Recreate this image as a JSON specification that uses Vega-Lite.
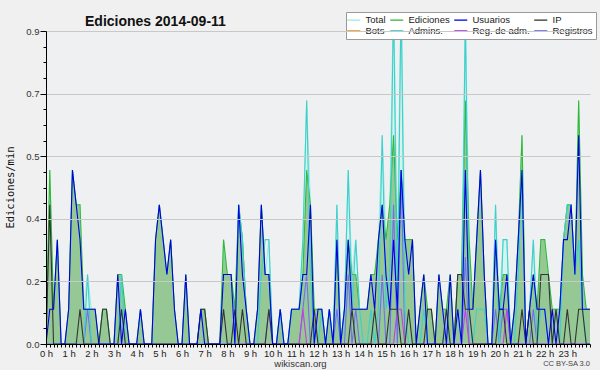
{
"$schema": "https://vega.github.io/schema/vega-lite/v6.json",
"width": 544, "height": 313,
"autosize": "none",
"padding": {"left": 46, "top": 31, "right": 10, "bottom": 26},
"background": "#f0f0f0",
"config": {"view": {"fill": "#eef0f2", "stroke": null}, "font": "Liberation Sans"},
"title": {"text": "Ediciones  2014-09-11", "anchor": "start", "frame": "group", "dx": 39, "offset": -28, "baseline": "alphabetic", "font": "Liberation Sans", "fontSize": 14, "fontWeight": "bold", "color": "#111111"},
"datasets": {"d": [
{"m":0,"tot":0,"edi":0,"usr":0,"ip":0,"adm":0,"radm":0,"reg":0},
{"m":10,"tot":0.5,"edi":0.5,"usr":0.1,"ip":0.4,"adm":0,"radm":0,"reg":0},
{"m":20,"tot":0.1,"edi":0.1,"usr":0.1,"ip":0,"adm":0,"radm":0,"reg":0},
{"m":30,"tot":0.3,"edi":0.3,"usr":0.3,"ip":0,"adm":0,"radm":0,"reg":0},
{"m":40,"tot":0,"edi":0,"usr":0,"ip":0,"adm":0,"radm":0,"reg":0},
{"m":50,"tot":0,"edi":0,"usr":0,"ip":0,"adm":0,"radm":0,"reg":0},
{"m":60,"tot":0.1,"edi":0.1,"usr":0.1,"ip":0,"adm":0,"radm":0,"reg":0},
{"m":70,"tot":0.5,"edi":0.5,"usr":0.5,"ip":0,"adm":0,"radm":0,"reg":0},
{"m":80,"tot":0.4,"edi":0.4,"usr":0.4,"ip":0,"adm":0,"radm":0,"reg":0},
{"m":90,"tot":0.4,"edi":0.4,"usr":0.3,"ip":0.1,"adm":0,"radm":0,"reg":0},
{"m":100,"tot":0.1,"edi":0.1,"usr":0.1,"ip":0,"adm":0,"radm":0,"reg":0},
{"m":110,"tot":0.2,"edi":0.1,"usr":0.1,"ip":0,"adm":0.2,"radm":0,"reg":0.1},
{"m":120,"tot":0.1,"edi":0.1,"usr":0.1,"ip":0,"adm":0,"radm":0,"reg":0},
{"m":130,"tot":0.1,"edi":0.1,"usr":0.1,"ip":0,"adm":0,"radm":0,"reg":0},
{"m":140,"tot":0,"edi":0,"usr":0,"ip":0,"adm":0,"radm":0,"reg":0},
{"m":150,"tot":0.1,"edi":0.1,"usr":0,"ip":0.1,"adm":0,"radm":0,"reg":0},
{"m":160,"tot":0.1,"edi":0.1,"usr":0,"ip":0.1,"adm":0,"radm":0,"reg":0},
{"m":170,"tot":0,"edi":0,"usr":0,"ip":0,"adm":0,"radm":0,"reg":0},
{"m":180,"tot":0,"edi":0,"usr":0,"ip":0,"adm":0,"radm":0,"reg":0},
{"m":190,"tot":0.2,"edi":0.2,"usr":0.2,"ip":0,"adm":0,"radm":0,"reg":0},
{"m":200,"tot":0.2,"edi":0.2,"usr":0,"ip":0.1,"adm":0.2,"radm":0,"reg":0},
{"m":210,"tot":0.1,"edi":0.1,"usr":0.1,"ip":0,"adm":0,"radm":0,"reg":0},
{"m":220,"tot":0,"edi":0,"usr":0,"ip":0,"adm":0,"radm":0,"reg":0},
{"m":230,"tot":0,"edi":0,"usr":0,"ip":0,"adm":0,"radm":0,"reg":0},
{"m":240,"tot":0,"edi":0,"usr":0,"ip":0,"adm":0,"radm":0,"reg":0},
{"m":250,"tot":0.1,"edi":0.1,"usr":0.1,"ip":0,"adm":0,"radm":0,"reg":0},
{"m":260,"tot":0,"edi":0,"usr":0,"ip":0,"adm":0,"radm":0,"reg":0},
{"m":270,"tot":0,"edi":0,"usr":0,"ip":0,"adm":0,"radm":0,"reg":0},
{"m":280,"tot":0,"edi":0,"usr":0,"ip":0,"adm":0,"radm":0,"reg":0},
{"m":290,"tot":0.3,"edi":0.3,"usr":0.3,"ip":0,"adm":0,"radm":0,"reg":0},
{"m":300,"tot":0.4,"edi":0.4,"usr":0.4,"ip":0,"adm":0,"radm":0,"reg":0},
{"m":310,"tot":0.3,"edi":0.3,"usr":0.3,"ip":0,"adm":0,"radm":0,"reg":0},
{"m":320,"tot":0.2,"edi":0.2,"usr":0.2,"ip":0,"adm":0,"radm":0,"reg":0},
{"m":330,"tot":0.3,"edi":0.3,"usr":0.3,"ip":0,"adm":0,"radm":0,"reg":0},
{"m":340,"tot":0.1,"edi":0.1,"usr":0.1,"ip":0,"adm":0,"radm":0,"reg":0},
{"m":350,"tot":0,"edi":0,"usr":0,"ip":0,"adm":0,"radm":0,"reg":0},
{"m":360,"tot":0,"edi":0,"usr":0,"ip":0,"adm":0,"radm":0,"reg":0},
{"m":370,"tot":0.2,"edi":0.2,"usr":0.2,"ip":0,"adm":0,"radm":0,"reg":0},
{"m":380,"tot":0,"edi":0,"usr":0,"ip":0,"adm":0,"radm":0,"reg":0},
{"m":390,"tot":0,"edi":0,"usr":0,"ip":0,"adm":0,"radm":0,"reg":0},
{"m":400,"tot":0,"edi":0,"usr":0,"ip":0,"adm":0,"radm":0,"reg":0},
{"m":410,"tot":0.1,"edi":0.1,"usr":0.1,"ip":0.1,"adm":0,"radm":0,"reg":0},
{"m":420,"tot":0.1,"edi":0.1,"usr":0,"ip":0.1,"adm":0,"radm":0,"reg":0},
{"m":430,"tot":0,"edi":0,"usr":0,"ip":0,"adm":0,"radm":0,"reg":0},
{"m":440,"tot":0,"edi":0,"usr":0,"ip":0,"adm":0,"radm":0,"reg":0},
{"m":450,"tot":0,"edi":0,"usr":0,"ip":0,"adm":0,"radm":0,"reg":0},
{"m":460,"tot":0,"edi":0,"usr":0,"ip":0,"adm":0,"radm":0,"reg":0},
{"m":470,"tot":0.3,"edi":0.3,"usr":0.2,"ip":0.1,"adm":0,"radm":0,"reg":0},
{"m":480,"tot":0.2,"edi":0.2,"usr":0.2,"ip":0,"adm":0,"radm":0,"reg":0},
{"m":490,"tot":0.2,"edi":0.2,"usr":0.2,"ip":0,"adm":0,"radm":0,"reg":0},
{"m":500,"tot":0.1,"edi":0.1,"usr":0,"ip":0.1,"adm":0,"radm":0,"reg":0},
{"m":510,"tot":0.4,"edi":0.4,"usr":0.4,"ip":0,"adm":0.4,"radm":0,"reg":0},
{"m":520,"tot":0.3,"edi":0.3,"usr":0.2,"ip":0.1,"adm":0.3,"radm":0,"reg":0},
{"m":530,"tot":0.1,"edi":0.1,"usr":0.1,"ip":0,"adm":0.1,"radm":0,"reg":0},
{"m":540,"tot":0,"edi":0,"usr":0,"ip":0,"adm":0,"radm":0,"reg":0},
{"m":550,"tot":0,"edi":0,"usr":0,"ip":0,"adm":0,"radm":0,"reg":0},
{"m":560,"tot":0.1,"edi":0.1,"usr":0.1,"ip":0,"adm":0,"radm":0,"reg":0},
{"m":570,"tot":0.4,"edi":0.4,"usr":0.4,"ip":0,"adm":0.2,"radm":0,"reg":0},
{"m":580,"tot":0.2,"edi":0.2,"usr":0.2,"ip":0,"adm":0.3,"radm":0,"reg":0},
{"m":590,"tot":0.3,"edi":0.2,"usr":0.2,"ip":0.1,"adm":0.3,"radm":0,"reg":0.1},
{"m":600,"tot":0,"edi":0,"usr":0,"ip":0,"adm":0,"radm":0,"reg":0},
{"m":610,"tot":0,"edi":0,"usr":0,"ip":0,"adm":0,"radm":0,"reg":0},
{"m":620,"tot":0.1,"edi":0.1,"usr":0.1,"ip":0,"adm":0.1,"radm":0,"reg":0},
{"m":630,"tot":0,"edi":0,"usr":0,"ip":0,"adm":0,"radm":0,"reg":0},
{"m":640,"tot":0,"edi":0,"usr":0,"ip":0,"adm":0,"radm":0,"reg":0},
{"m":650,"tot":0.1,"edi":0.1,"usr":0.1,"ip":0,"adm":0.1,"radm":0,"reg":0},
{"m":660,"tot":0.1,"edi":0.1,"usr":0.1,"ip":0,"adm":0.1,"radm":0,"reg":0},
{"m":670,"tot":0.1,"edi":0.1,"usr":0.1,"ip":0,"adm":0.1,"radm":0,"reg":0},
{"m":680,"tot":0.3,"edi":0.2,"usr":0.2,"ip":0,"adm":0.3,"radm":0.1,"reg":0.1},
{"m":690,"tot":0.7,"edi":0.5,"usr":0.2,"ip":0,"adm":0.7,"radm":0,"reg":0.2},
{"m":700,"tot":0.4,"edi":0.4,"usr":0.4,"ip":0,"adm":0.2,"radm":0,"reg":0},
{"m":710,"tot":0.1,"edi":0.1,"usr":0,"ip":0.1,"adm":0,"radm":0,"reg":0},
{"m":720,"tot":0.1,"edi":0.1,"usr":0.1,"ip":0,"adm":0,"radm":0,"reg":0},
{"m":730,"tot":0.1,"edi":0.1,"usr":0.1,"ip":0,"adm":0.1,"radm":0,"reg":0},
{"m":740,"tot":0,"edi":0,"usr":0,"ip":0,"adm":0,"radm":0,"reg":0},
{"m":750,"tot":0.1,"edi":0.1,"usr":0.1,"ip":0,"adm":0.1,"radm":0,"reg":0},
{"m":760,"tot":0,"edi":0,"usr":0,"ip":0,"adm":0,"radm":0,"reg":0},
{"m":770,"tot":0.4,"edi":0.3,"usr":0.3,"ip":0,"adm":0.4,"radm":0,"reg":0.1},
{"m":780,"tot":0,"edi":0,"usr":0,"ip":0,"adm":0,"radm":0,"reg":0},
{"m":790,"tot":0.1,"edi":0.1,"usr":0.1,"ip":0,"adm":0.1,"radm":0,"reg":0},
{"m":800,"tot":0.5,"edi":0.3,"usr":0.3,"ip":0,"adm":0.5,"radm":0,"reg":0.2},
{"m":810,"tot":0.2,"edi":0.2,"usr":0.1,"ip":0.1,"adm":0.1,"radm":0,"reg":0},
{"m":820,"tot":0.3,"edi":0.2,"usr":0.1,"ip":0,"adm":0.3,"radm":0,"reg":0.1},
{"m":830,"tot":0.1,"edi":0.1,"usr":0.1,"ip":0,"adm":0.1,"radm":0,"reg":0},
{"m":840,"tot":0.1,"edi":0.1,"usr":0.1,"ip":0,"adm":0,"radm":0,"reg":0},
{"m":850,"tot":0.1,"edi":0.1,"usr":0.1,"ip":0,"adm":0,"radm":0,"reg":0},
{"m":860,"tot":0.2,"edi":0.2,"usr":0.2,"ip":0,"adm":0.1,"radm":0,"reg":0},
{"m":870,"tot":0.2,"edi":0.2,"usr":0.1,"ip":0.1,"adm":0,"radm":0,"reg":0},
{"m":880,"tot":0.3,"edi":0.3,"usr":0.3,"ip":0,"adm":0.1,"radm":0,"reg":0},
{"m":890,"tot":0.6,"edi":0.4,"usr":0.4,"ip":0,"adm":0.6,"radm":0,"reg":0.2},
{"m":900,"tot":0.3,"edi":0.3,"usr":0.2,"ip":0,"adm":0.1,"radm":0,"reg":0},
{"m":910,"tot":0.4,"edi":0.4,"usr":0.1,"ip":0.1,"adm":0.2,"radm":0,"reg":0},
{"m":920,"tot":1.0,"edi":0.6,"usr":0.3,"ip":0.1,"adm":1.0,"radm":0,"reg":0.4},
{"m":930,"tot":0.3,"edi":0.3,"usr":0.1,"ip":0.1,"adm":0.1,"radm":0.1,"reg":0},
{"m":940,"tot":1.0,"edi":0.5,"usr":0.5,"ip":0,"adm":1.0,"radm":0.1,"reg":0.5},
{"m":950,"tot":0.3,"edi":0.3,"usr":0.3,"ip":0,"adm":0.1,"radm":0,"reg":0},
{"m":960,"tot":0.3,"edi":0.3,"usr":0.2,"ip":0.1,"adm":0,"radm":0,"reg":0},
{"m":970,"tot":0.3,"edi":0.3,"usr":0.3,"ip":0,"adm":0,"radm":0,"reg":0},
{"m":980,"tot":0,"edi":0,"usr":0,"ip":0,"adm":0,"radm":0,"reg":0},
{"m":990,"tot":0.1,"edi":0.1,"usr":0.1,"ip":0,"adm":0,"radm":0,"reg":0},
{"m":1000,"tot":0.2,"edi":0.2,"usr":0.2,"ip":0,"adm":0.1,"radm":0,"reg":0},
{"m":1010,"tot":0.1,"edi":0.1,"usr":0,"ip":0.1,"adm":0,"radm":0,"reg":0},
{"m":1020,"tot":0.1,"edi":0.1,"usr":0,"ip":0.1,"adm":0,"radm":0,"reg":0},
{"m":1030,"tot":0,"edi":0,"usr":0,"ip":0,"adm":0,"radm":0,"reg":0},
{"m":1040,"tot":0.2,"edi":0.2,"usr":0.2,"ip":0,"adm":0,"radm":0,"reg":0},
{"m":1050,"tot":0.1,"edi":0.1,"usr":0.1,"ip":0,"adm":0,"radm":0,"reg":0},
{"m":1060,"tot":0.1,"edi":0.1,"usr":0,"ip":0.1,"adm":0.1,"radm":0,"reg":0},
{"m":1070,"tot":0.2,"edi":0.2,"usr":0.2,"ip":0,"adm":0,"radm":0,"reg":0},
{"m":1080,"tot":0,"edi":0,"usr":0,"ip":0,"adm":0,"radm":0,"reg":0},
{"m":1090,"tot":0.2,"edi":0.2,"usr":0.1,"ip":0.2,"adm":0.1,"radm":0,"reg":0},
{"m":1100,"tot":0.2,"edi":0.2,"usr":0,"ip":0.2,"adm":0,"radm":0,"reg":0},
{"m":1110,"tot":0.95,"edi":0.7,"usr":0.5,"ip":0.1,"adm":0.95,"radm":0.1,"reg":0.25},
{"m":1120,"tot":0.3,"edi":0.3,"usr":0.1,"ip":0.1,"adm":0.1,"radm":0,"reg":0},
{"m":1130,"tot":0.1,"edi":0.1,"usr":0.1,"ip":0,"adm":0,"radm":0,"reg":0},
{"m":1140,"tot":0.3,"edi":0.3,"usr":0.3,"ip":0,"adm":0.1,"radm":0,"reg":0},
{"m":1150,"tot":0.5,"edi":0.5,"usr":0.5,"ip":0,"adm":0.1,"radm":0,"reg":0},
{"m":1160,"tot":0.2,"edi":0.2,"usr":0.2,"ip":0,"adm":0.1,"radm":0,"reg":0},
{"m":1170,"tot":0,"edi":0,"usr":0,"ip":0,"adm":0,"radm":0,"reg":0},
{"m":1180,"tot":0,"edi":0,"usr":0,"ip":0,"adm":0,"radm":0,"reg":0},
{"m":1190,"tot":0.4,"edi":0.3,"usr":0.3,"ip":0,"adm":0.4,"radm":0,"reg":0.1},
{"m":1200,"tot":0.1,"edi":0.1,"usr":0.1,"ip":0.1,"adm":0,"radm":0,"reg":0},
{"m":1210,"tot":0.3,"edi":0.2,"usr":0.1,"ip":0.1,"adm":0.3,"radm":0,"reg":0.1},
{"m":1220,"tot":0.3,"edi":0.2,"usr":0.2,"ip":0,"adm":0.3,"radm":0.1,"reg":0.1},
{"m":1230,"tot":0,"edi":0,"usr":0,"ip":0,"adm":0,"radm":0,"reg":0},
{"m":1240,"tot":0.1,"edi":0.1,"usr":0.1,"ip":0,"adm":0,"radm":0,"reg":0},
{"m":1250,"tot":0.3,"edi":0.3,"usr":0.3,"ip":0,"adm":0.2,"radm":0,"reg":0},
{"m":1260,"tot":0.6,"edi":0.6,"usr":0.5,"ip":0.1,"adm":0.5,"radm":0,"reg":0},
{"m":1270,"tot":0,"edi":0,"usr":0,"ip":0,"adm":0,"radm":0,"reg":0},
{"m":1280,"tot":0.1,"edi":0.1,"usr":0.1,"ip":0.1,"adm":0.1,"radm":0,"reg":0},
{"m":1290,"tot":0.3,"edi":0.2,"usr":0.2,"ip":0,"adm":0.3,"radm":0,"reg":0.1},
{"m":1300,"tot":0.1,"edi":0.1,"usr":0.1,"ip":0,"adm":0,"radm":0,"reg":0},
{"m":1310,"tot":0.3,"edi":0.3,"usr":0.1,"ip":0.2,"adm":0.1,"radm":0,"reg":0},
{"m":1320,"tot":0.3,"edi":0.3,"usr":0.1,"ip":0.2,"adm":0.1,"radm":0,"reg":0},
{"m":1330,"tot":0.2,"edi":0.2,"usr":0,"ip":0.2,"adm":0,"radm":0,"reg":0},
{"m":1340,"tot":0.1,"edi":0.1,"usr":0.1,"ip":0,"adm":0,"radm":0,"reg":0},
{"m":1350,"tot":0.1,"edi":0.1,"usr":0,"ip":0.1,"adm":0.1,"radm":0,"reg":0},
{"m":1360,"tot":0.1,"edi":0.1,"usr":0.1,"ip":0,"adm":0,"radm":0,"reg":0},
{"m":1370,"tot":0.3,"edi":0.3,"usr":0.3,"ip":0,"adm":0.3,"radm":0,"reg":0},
{"m":1380,"tot":0.4,"edi":0.4,"usr":0.3,"ip":0.1,"adm":0.4,"radm":0,"reg":0},
{"m":1390,"tot":0.4,"edi":0.4,"usr":0.4,"ip":0,"adm":0.4,"radm":0,"reg":0},
{"m":1400,"tot":0.2,"edi":0.2,"usr":0.2,"ip":0,"adm":0.2,"radm":0,"reg":0},
{"m":1410,"tot":0.7,"edi":0.7,"usr":0.6,"ip":0.1,"adm":0.3,"radm":0,"reg":0},
{"m":1420,"tot":0.2,"edi":0.2,"usr":0.1,"ip":0.1,"adm":0.1,"radm":0,"reg":0},
{"m":1430,"tot":0.1,"edi":0.1,"usr":0.1,"ip":0,"adm":0,"radm":0,"reg":0},
{"m":1440,"tot":0.1,"edi":0.1,"usr":0.1,"ip":0,"adm":0,"radm":0,"reg":0}
],
"notes": [{"t": "CC BY-SA 3.0", "m": 1440, "v": 0}]},
"encoding": {
  "x": {"field": "m", "type": "quantitative",
    "scale": {"domain": [0,1440], "nice": false, "zero": false},
    "axis": {"values": [0,10,20,30,40,50,60,70,80,90,100,110,120,130,140,150,160,170,180,190,200,210,220,230,240,250,260,270,280,290,300,310,320,330,340,350,360,370,380,390,400,410,420,430,440,450,460,470,480,490,500,510,520,530,540,550,560,570,580,590,600,610,620,630,640,650,660,670,680,690,700,710,720,730,740,750,760,770,780,790,800,810,820,830,840,850,860,870,880,890,900,910,920,930,940,950,960,970,980,990,1000,1010,1020,1030,1040,1050,1060,1070,1080,1090,1100,1110,1120,1130,1140,1150,1160,1170,1180,1190,1200,1210,1220,1230,1240,1250,1260,1270,1280,1290,1300,1310,1320,1330,1340,1350,1360,1370,1380,1390,1400,1410,1420,1430,1440],
      "labelExpr": "datum.value % 60 == 0 && datum.value < 1440 ? (datum.value/60) + ' h' : ''",
      "labelOverlap": false, "labelFlush": false, "labelBound": false,
      "grid": false, "tickSize": 3, "tickColor": "#000000", "domainColor": "#000000",
      "labelFont": "Liberation Sans", "labelFontSize": 9.5, "labelColor": "#222222", "labelPadding": 1,
      "title": "wikiscan.org", "titleFont": "Liberation Sans", "titleFontSize": 9.5, "titleFontWeight": "normal", "titleColor": "#333333",
      "titleX": 254, "titleY": 22, "titleAlign": "center", "titleBaseline": "alphabetic", "zindex": 1}},
  "y": {"field": "v", "type": "quantitative",
    "scale": {"domain": [0,0.9], "nice": false},
    "axis": {"values": [0,0.045,0.09,0.135,0.18,0.225,0.27,0.315,0.36,0.405,0.45,0.495,0.54,0.585,0.63,0.675,0.72,0.765,0.81,0.855,0.9],
      "labelExpr": "round(datum.value*1000) % 180 == 0 ? format(datum.value, '.1f') : ''",
      "tickSize": {"condition": {"test": "round(datum.value*1000) % 180 == 0", "value": 6}, "value": 3},
      "grid": true, "gridColor": "#c8c8c8",
      "gridOpacity": {"condition": {"test": "round(datum.value*1000) % 180 == 0 && datum.value > 0", "value": 1}, "value": 0},
      "labelOverlap": false, "labelFlush": false, "labelBound": false,
      "tickColor": "#000000", "domainColor": "#000000",
      "labelFont": "Liberation Sans", "labelFontSize": 9.5, "labelColor": "#333333", "labelPadding": 1,
      "title": "Ediciones/min", "titleFont": "DejaVu Sans Mono", "titleFontSize": 10.5, "titleFontWeight": "normal", "titleColor": "#111111",
      "titleX": -36, "titleY": 156, "titleAngle": -90, "titleAlign": "center", "titleBaseline": "middle", "zindex": 1}}
},
"layer": [
  {"data": {"name": "d"},
   "transform": [{"fold": ["tot"], "as": ["s","v"]}],
   "mark": {"type": "area", "color": "#d6f4ee", "clip": true}},
  {"data": {"name": "d"},
   "transform": [{"fold": ["edi"], "as": ["s","v"]}],
   "mark": {"type": "area", "color": "#96c896", "clip": true}},
  {"data": {"name": "d"},
   "transform": [{"fold": ["tot","edi","reg","radm","adm","ip","usr"], "as": ["s","v"]}],
   "mark": {"type": "line", "strokeWidth": 1.1, "clip": true},
   "encoding": {
    "color": {"field": "s", "type": "nominal",
     "scale": {"domain": ["tot","edi","usr","ip","bot","adm","radm","reg"], "range": ["#a6e8e2","#33b833","#0000e6","#333333","#ff9933","#3cd0cc","#c040e0","#6f6ff5"]},
     "legend": {"orient": "none", "legendX": 300, "legendY": -19, "direction": "horizontal", "columns": 4, "title": null,
       "symbolType": "M-1.86,0h3.72", "symbolSize": 49, "symbolStrokeWidth": 1.3,
       "labelFont": "Liberation Sans", "labelFontSize": 9.5, "labelColor": "#222222", "labelLimit": 200,
       "rowPadding": 0, "columnPadding": 1, "padding": 3, "fillColor": "#ffffff", "strokeColor": "#999999", "labelOffset": 7,
       "labelExpr": "datum.label == 'tot' ? 'Total' : datum.label == 'edi' ? 'Ediciones' : datum.label == 'usr' ? 'Usuarios' : datum.label == 'ip' ? 'IP' : datum.label == 'bot' ? 'Bots' : datum.label == 'adm' ? 'Admins.' : datum.label == 'radm' ? 'Reg. de adm.' : 'Registros'"}}}},
  {"data": {"name": "notes"},
   "mark": {"type": "text", "align": "right", "baseline": "alphabetic", "dy": 22, "fontSize": 7.5, "color": "#444444", "font": "Liberation Sans"},
   "encoding": {"text": {"field": "t"}}}
]
}
